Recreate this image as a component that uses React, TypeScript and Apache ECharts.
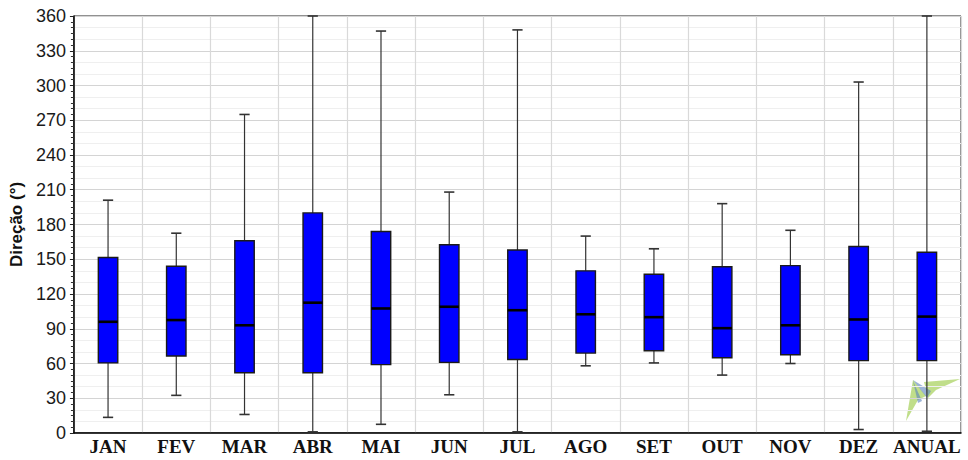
import React, { useEffect, useRef } from "react";
import * as echarts from "echarts";

const categories = ["JAN", "FEV", "MAR", "ABR", "MAI", "JUN", "JUL", "AGO", "SET", "OUT", "NOV", "DEZ", "ANUAL"];
const minVals = [13.5, 32.5, 16, 1, 7.5, 33, 1, 58, 60.5, 50, 60, 3, 1.5];
const q1Vals = [60.5, 66.5, 52, 52, 59, 61, 63.5, 69, 71, 65, 67.5, 62.5, 62.5];
const medianVals = [96, 97.5, 93, 112.5, 107.5, 109, 106, 102.5, 100, 90.5, 93, 98, 100.5];
const q3Vals = [151.5, 144, 166, 190, 174, 162.5, 158, 140, 137, 143.5, 144.5, 161, 156];
const maxVals = [201, 172.5, 275, 360, 347, 208, 348, 170, 159, 198, 175, 303, 360];
const yTicks = [0, 30, 60, 90, 120, 150, 180, 210, 240, 270, 300, 330, 360];

export default function App() {
  const ref = useRef<HTMLDivElement>(null);
  useEffect(() => {
    if (!ref.current) return;
    const chart = echarts.init(ref.current, null, { renderer: "svg" });
    const data = categories.map((_, i) => [i, minVals[i], q1Vals[i], medianVals[i], q3Vals[i], maxVals[i]]);
    chart.setOption({
      animation: false,
      backgroundColor: "#ffffff",
      grid: { left: 72, right: 7, top: 16, bottom: 27, show: true, borderColor: "#222", borderWidth: 1, backgroundColor: "transparent" },
      xAxis: {
        type: "category",
        data: categories,
        boundaryGap: true,
        axisLine: { lineStyle: { color: "#000", width: 1.5 } },
        axisTick: { show: false },
        axisLabel: { fontFamily: "'Liberation Serif', 'Times New Roman', serif", fontWeight: "bold", fontSize: 19, color: "#111", margin: 4, interval: 0 },
        splitLine: { show: true, interval: 0, lineStyle: { color: "#d9d9d9", width: 1.2 } },
      },
      yAxis: [
        {
          type: "value",
          position: "left",
          min: 0,
          max: 360,
          interval: 10,
          axisLine: { show: false },
          axisTick: { show: false },
          axisLabel: { show: false },
          splitLine: { show: true, lineStyle: { color: "#efefef", width: 1 } },
        },
        {
          type: "value",
          position: "left",
          offset: 0,
          min: 0,
          max: 360,
          interval: 30,
          name: "Direção (°)",
          nameLocation: "middle",
          nameGap: 45,
          nameRotate: 90,
          nameTextStyle: { fontFamily: "'Liberation Sans', Arial, sans-serif", fontWeight: "bold", fontSize: 17, color: "#111" },
          axisLine: { show: true, onZero: false, lineStyle: { color: "#000", width: 1.5 } },
          axisTick: { show: true, length: 4, lineStyle: { color: "#222" } },
          minorTick: { show: true, splitNumber: 6, length: 3, lineStyle: { color: "#333" } },
          axisLabel: {
            fontFamily: "'Liberation Sans', Arial, sans-serif",
            fontSize: 18,
            color: "#1a1a1a",
            margin: 8,
            formatter: (v: number) => (yTicks.includes(v) ? String(v) : ""),
          },
          splitLine: { show: true, lineStyle: { color: "#d4d4d4", width: 1.2 } },
        },
      ],
      series: [
        {
          type: "custom",
          yAxisIndex: 1,
          data,
          encode: { x: 0, y: [1, 2, 3, 4, 5] },
          renderItem: (params: any, api: any) => {
            const idx = api.value(0);
            const pMin = api.coord([idx, api.value(1)]);
            const pQ1 = api.coord([idx, api.value(2)]);
            const pMed = api.coord([idx, api.value(3)]);
            const pQ3 = api.coord([idx, api.value(4)]);
            const pMax = api.coord([idx, api.value(5)]);
            const bandW = api.size([1, 0])[0];
            const bw = bandW * 0.285;
            const cw = bandW * 0.15;
            const x = pMed[0];
            const wStyle = { stroke: "#333", lineWidth: 1.2 };
            return {
              type: "group",
              children: [
                { type: "line", shape: { x1: x, y1: pQ3[1], x2: x, y2: pMax[1] }, style: wStyle },
                { type: "line", shape: { x1: x, y1: pQ1[1], x2: x, y2: pMin[1] }, style: wStyle },
                { type: "line", shape: { x1: x - cw / 2, y1: pMax[1], x2: x + cw / 2, y2: pMax[1] }, style: { stroke: "#333", lineWidth: 1.6 } },
                { type: "line", shape: { x1: x - cw / 2, y1: pMin[1], x2: x + cw / 2, y2: pMin[1] }, style: { stroke: "#333", lineWidth: 1.6 } },
                {
                  type: "rect",
                  shape: { x: x - bw / 2, y: pQ3[1], width: bw, height: pQ1[1] - pQ3[1] },
                  style: { fill: "#0000ff", stroke: "#1a1a1a", lineWidth: 1.4 },
                },
                { type: "line", shape: { x1: x - bw / 2, y1: pMed[1], x2: x + bw / 2, y2: pMed[1] }, style: { stroke: "#000", lineWidth: 2.6 } },
              ],
            };
          },
        },
      ],
      graphic: [
        {
          type: "group",
          z: 100,
          silent: true,
          children: [
            { type: "polygon", shape: { points: [[913, 380], [906, 421], [918, 400], [926, 396]] }, style: { fill: "rgba(150,200,60,0.6)" } },
            { type: "polygon", shape: { points: [[924, 382], [960, 379], [936, 390], [928, 398]] }, style: { fill: "rgba(150,200,60,0.6)" } },
            { type: "polygon", shape: { points: [[913, 380], [931, 391], [927, 398]] }, style: { fill: "rgba(90,130,190,0.6)" } },
            { type: "polygon", shape: { points: [[913, 381], [922, 401], [918, 403]] }, style: { fill: "rgba(90,130,190,0.6)" } },
          ],
        },
      ],
    });
    return () => chart.dispose();
  }, []);
  return <div ref={ref} style={{ position: "fixed", left: 0, top: 0, width: 968, height: 460 }} />;
}
